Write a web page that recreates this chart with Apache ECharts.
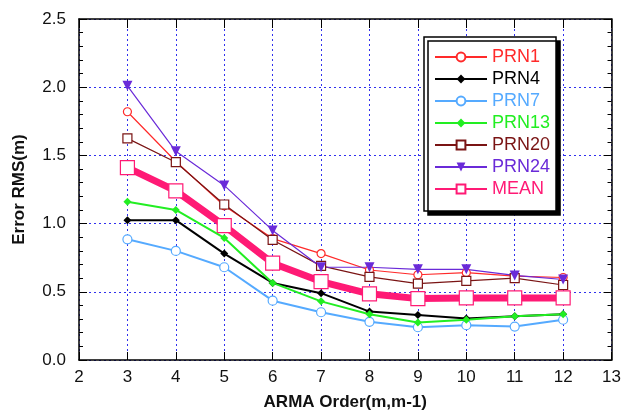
<!DOCTYPE html>
<html><head><meta charset="utf-8">
<script src="https://cdn.jsdelivr.net/npm/echarts@6/dist/echarts.min.js"></script>
<style>html,body{margin:0;padding:0;background:#fff}#c{width:624px;height:416px}</style>
</head><body><div id="c"></div>
<script>
const orders = [3, 4, 5, 6, 7, 8, 9, 10, 11, 12];
const prn1  = [1.82, 1.455, 1.13, 0.89, 0.78, 0.66, 0.625, 0.64, 0.615, 0.605];
const prn4  = [1.025, 1.025, 0.78, 0.565, 0.49, 0.355, 0.33, 0.305, 0.32, 0.335];
const prn7  = [0.885, 0.80, 0.68, 0.435, 0.35, 0.28, 0.24, 0.255, 0.245, 0.295];
const prn13 = [1.16, 1.10, 0.895, 0.565, 0.43, 0.335, 0.275, 0.295, 0.32, 0.335];
const prn20 = [1.625, 1.45, 1.14, 0.88, 0.69, 0.61, 0.56, 0.58, 0.60, 0.55];
const prn24 = [2.01, 1.53, 1.28, 0.95, 0.68, 0.68, 0.665, 0.665, 0.62, 0.59];
const mean  = [1.41, 1.24, 0.985, 0.71, 0.575, 0.485, 0.45, 0.455, 0.455, 0.455];
const yTicks = ['0.0', '0.5', '1.0', '1.5', '2.0', '2.5'];

const pts = a => orders.map((x, i) => [x, a[i]]);
const FONT = 'Liberation Sans, Arial, Helvetica, sans-serif';

function mk(name, data, color, symbol, size, lw, filled, extra) {
  return Object.assign({
    name, type: 'line', data: pts(data), xAxisIndex: 0, yAxisIndex: 0,
    symbol, symbolSize: size, showSymbol: true,
    lineStyle: { color, width: lw },
    itemStyle: filled ? { color } : { color: '#fff', borderColor: color, borderWidth: 1.2 },
    emphasis: { disabled: true }, animation: false
  }, extra || {});
}

const series = [
  mk('PRN1', prn1, '#ff2a2a', 'circle', 8, 1.2, false),
  mk('PRN4', prn4, '#000000', 'diamond', 8, 2, true),
  mk('PRN7', prn7, '#55aaff', 'circle', 9, 2, false),
  mk('PRN13', prn13, '#22ee22', 'diamond', 8, 2, true),
  mk('PRN20', prn20, '#7a1414', 'rect', 9, 1.2, false),
  mk('PRN24', prn24, '#6a2ad8', 'triangle', 10, 1.2, true, { symbolRotate: 180 }),
  mk('MEAN', mean, '#ff1a75', 'rect', 14, 7, false, { z: 1 })
];
const legColors = ['#ff2a2a', '#000000', '#55aaff', '#22ee22', '#7a1414', '#6a2ad8', '#ff1a75'];

const chart = echarts.init(document.getElementById('c'), null, { renderer: 'canvas' });
const gridLine = { show: true, lineStyle: { color: '#3030ee', type: [2, 3], width: 1 } };
chart.setOption({
  animation: false,
  backgroundColor: '#fff',
  textStyle: { fontFamily: FONT },
  grid: { left: 79, right: 12, top: 19, bottom: 54, containLabel: false },
  legend: {
    left: 424, top: 37,
    orient: 'vertical',
    backgroundColor: '#fff', borderColor: '#000', borderWidth: 1.5,
    shadowColor: '#000', shadowBlur: 0, shadowOffsetX: 4, shadowOffsetY: 4,
    padding: [11, 6, 13, 10],
    itemWidth: 52, itemHeight: 11, itemGap: 4,
    selectedMode: false,
    textStyle: { fontSize: 18, lineHeight: 18, fontFamily: FONT },
    data: series.map((s, i) => ({ name: s.name, textStyle: { color: legColors[i] } }))
  },
  xAxis: [
    {
      type: 'value', min: 2, max: 13, interval: 1, position: 'bottom',
      name: 'ARMA Order(m,m-1)', nameLocation: 'middle', nameGap: 34,
      nameTextStyle: { fontSize: 17, fontWeight: 'bold', color: '#111', fontFamily: FONT },
      axisLine: { show: true, onZero: false, lineStyle: { color: '#000', width: 1.5 } },
      axisTick: { show: true, inside: true, length: 8, lineStyle: { color: '#000' } },
      axisLabel: { fontSize: 17, color: '#111', margin: 9, fontFamily: FONT },
      splitLine: gridLine
    },
    {
      type: 'value', min: 2, max: 13, interval: 1, position: 'top',
      axisLine: { show: true, onZero: false, lineStyle: { color: '#000', width: 1.5 } },
      axisTick: { show: true, inside: true, length: 9, lineStyle: { color: '#000' } },
      axisLabel: { show: false }, splitLine: { show: false }
    }
  ],
  yAxis: [
    {
      type: 'value', min: 0, max: 2.5, interval: 0.5, position: 'left',
      name: 'Error RMS(m)', nameLocation: 'middle', nameGap: 51,
      nameTextStyle: { fontSize: 17, fontWeight: 'bold', color: '#111', fontFamily: FONT },
      axisLine: { show: true, onZero: false, lineStyle: { color: '#000', width: 1.5 } },
      axisTick: { show: true, inside: true, length: 8, lineStyle: { color: '#000' } },
      minorTick: { show: true, splitNumber: 5, length: 4, lineStyle: { color: '#000' } },
      axisLabel: { fontSize: 17, color: '#111', margin: 13, fontFamily: FONT,
        formatter: v => yTicks[Math.round(v / 0.5)] },
      splitLine: gridLine
    },
    {
      type: 'value', min: 0, max: 2.5, interval: 0.5, position: 'right',
      axisLine: { show: true, onZero: false, lineStyle: { color: '#000', width: 1.5 } },
      axisTick: { show: true, inside: true, length: 8, lineStyle: { color: '#000' } },
      minorTick: { show: true, splitNumber: 5, length: 4, lineStyle: { color: '#000' } },
      axisLabel: { show: false }, splitLine: { show: false }
    }
  ],
  series
});
</script></body></html>
